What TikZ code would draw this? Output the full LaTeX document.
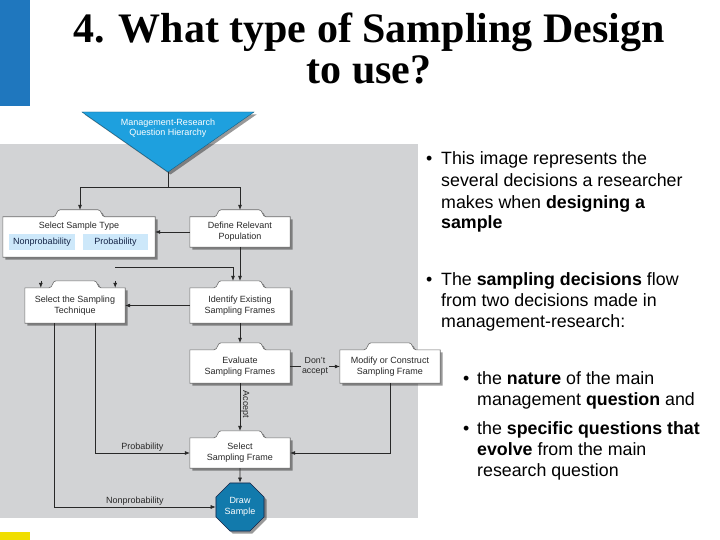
\documentclass[tikz,border=0pt]{standalone}
\usepackage{fontspec}
\setmainfont{Liberation Sans}
\newfontfamily\titlefont{Liberation Serif}
\usetikzlibrary{arrows.meta,calc,shapes.geometric,shadows}
\pgfdeclarelayer{back}
\pgfdeclarelayer{shapes}
\pgfsetlayers{back,shapes,main}
\definecolor{panel}{RGB}{210,211,213}
\definecolor{barblue}{RGB}{31,119,190}
\definecolor{tricyan}{RGB}{30,160,222}
\definecolor{octblue}{RGB}{18,122,172}
\definecolor{optblue}{RGB}{205,232,250}
\definecolor{boxline}{RGB}{110,110,110}
\definecolor{ink}{RGB}{40,40,40}
\definecolor{navyink}{RGB}{20,35,70}
\definecolor{bary}{RGB}{240,222,0}
\tikzset{
 boxnode/.style={minimum width=100pt, inner sep=0pt, align=center, font=\fontsize{9}{11}\selectfont, text=ink},
 boxpath/.style={fill=white, draw=boxline, line width=0.6pt, drop shadow={shadow xshift=2.5pt, shadow yshift=-2.5pt, fill=black, opacity=0.4}},
 conn/.style={draw=ink, line width=0.6pt},
 arr/.style={conn, -{Latex[length=5pt,width=4pt]}},
 lbl/.style={font=\fontsize{9}{11}\selectfont, text=ink, inner sep=1pt},
 optbox/.style={fill=optblue, minimum height=16pt, inner sep=0pt, font=\fontsize{9}{11}\selectfont, text=navyink},
 body/.style={font=\fontsize{17.8}{21.5}\selectfont, anchor=base west, inner sep=0pt},
}
\newcommand\mytabbox[1]{%
 \begin{pgfonlayer}{shapes}
 \path[boxpath] (#1.south west) -- (#1.north west) -- ($(#1.north)+(-26,0)$) .. controls ($(#1.north)+(-22,0)$) and ($(#1.north)+(-23,-7)$) .. ($(#1.north)+(-19,-7)$) -- ($(#1.north)+(19,-7)$) .. controls ($(#1.north)+(23,-7)$) and ($(#1.north)+(22,0)$) .. ($(#1.north)+(26,0)$) -- (#1.north east) -- (#1.south east) -- cycle;
 \end{pgfonlayer}}
\begin{document}
\begin{tikzpicture}[x=1pt,y=-1pt]
\useasboundingbox (0,0) rectangle (720,540);
\begin{pgfonlayer}{back}
 \fill[white] (0,0) rectangle (720,540);
 \fill[panel] (0,144) rectangle (418,518);
 \fill[barblue] (0,0) rectangle (30,106);
 \fill[bary] (0,532) rectangle (30,540);
\end{pgfonlayer}
% title
\node[font=\titlefont\bfseries\fontsize{42}{46}\selectfont, anchor=base, inner sep=0pt] (t1) at (369,43) {4. What type of Sampling Design};
\node[font=\titlefont\bfseries\fontsize{42}{46}\selectfont, anchor=base, inner sep=0pt] (t2) at (369,84) {to use?};
% triangle
\begin{pgfonlayer}{shapes}
 \path[fill=tricyan, draw=tricyan!60!black, line width=0.4pt, drop shadow={shadow xshift=2.5pt, shadow yshift=-2.5pt, fill=black, opacity=0.4}] (82,112) -- (254,112) -- (168,172) -- cycle;
\end{pgfonlayer}
\coordinate (apex) at (168,172);
\node[text=white, font=\fontsize{9}{10.5}\selectfont, align=center, inner sep=0pt] (mrq) at (168,128) {Management-Research\\Question Hierarchy};
% boxes
\node[boxnode, minimum width=152pt, minimum height=40pt] (sst) at (79,237) {};
\mytabbox{sst}
\node[lbl] (ssttxt) at (79,226) {Select Sample Type};
\node[optbox, minimum width=66pt] (nonp) at (42,242) {Nonprobability};
\node[optbox, minimum width=65pt] (prob) at (115.5,242) {Probability};
\node[boxnode, minimum height=30pt] (drp) at (240,232) {Define Relevant\\Population};
\mytabbox{drp}
\node[boxnode, minimum height=35pt] (tech) at (75,305.5) {Select the Sampling\\Technique};
\mytabbox{tech}
\node[boxnode, minimum height=35pt] (ief) at (240,305.5) {Identify Existing\\Sampling Frames};
\mytabbox{ief}
\node[boxnode, minimum height=33pt] (esf) at (240,366.5) {Evaluate\\Sampling Frames};
\mytabbox{esf}
\node[boxnode, minimum height=33pt] (mcs) at (390,366.5) {Modify or Construct\\Sampling Frame};
\mytabbox{mcs}
\node[boxnode, minimum height=30pt] (ssf) at (240,453) {Select\\Sampling Frame};
\mytabbox{ssf}
\node[regular polygon, regular polygon sides=8, minimum size=52pt, fill=octblue, draw=navyink, line width=0.6pt, text=white, font=\fontsize{9}{11}\selectfont, align=center, inner sep=0pt, drop shadow={shadow xshift=2.5pt, shadow yshift=-2.5pt, fill=black, opacity=0.4}] (drs) at (240,507) {Draw\\Sample};
% connectors
\coordinate (j1) at (168,187);
\coordinate (sst-t) at ($(sst.north)+(1,-7)$);
\coordinate (drp-t) at ($(drp.north)+(0,-7)$);
\coordinate (ief-t) at ($(ief.north)+(0,-7)$);
\coordinate (esf-t) at ($(esf.north)+(0,-7)$);
\coordinate (ssf-t) at ($(ssf.north)+(0,-7)$);
\coordinate (h1) at (115,267);
\draw[conn] (apex) -- (j1);
\draw[arr] (j1) -| (sst-t);
\draw[arr] (j1) -| (drp-t);
\draw[arr] (drp.west) -- (drp.west -| sst.east);
\draw[arr] (drp.south) -- (ief-t);
\draw[arr] (h1) -| ($(ief-t)+(-7,0)$);
\draw[arr] ($(tech.north west)+(16,-7)$) -- ($(tech.north west)+(16,0)$);
\draw[arr] ($(tech.north east)+(-10,-7)$) -- ($(tech.north east)+(-10,0)$);
\draw[arr] (ief.west) -- (ief.west -| tech.east);
\draw[arr] (ief.south) -- (esf-t);
\draw[arr] (esf.east) -- node[lbl, fill=panel, align=center, font=\fontsize{8.8}{10.5}\selectfont] (dna) {Don't\\accept} (mcs.west);
\draw[arr] (esf.south) -- node[lbl, rotate=-90, anchor=south, pos=0.45] (acc) {Accept} (ssf-t);
\draw[arr] (mcs.south) |- (ssf.east);
\draw[arr] ($(tech.south)+(20,0)$) |- node[lbl, pos=0.75, above] (pl) {Probability} (ssf.west);
\draw[arr] ($(tech.south)+(-21,0)$) |- node[lbl, pos=0.75, above] (npl) {Nonprobability} (drs.west);
\draw[arr] (ssf.south) -- (drs.north);
% right-hand text
\node[body] (b1) at (426,165) {•};
\node[body] (l1) at (441,165) {This image represents the};
\node[body] (l2) at (441,187) {several decisions a researcher};
\node[body] (l3) at (441,208) {makes when \textbf{designing a}};
\node[body] (l4) at (441,229) {\textbf{sample}};
\node[body] (b2) at (426,285) {•};
\node[body] (l5) at (441,285) {The \textbf{sampling decisions} flow};
\node[body] (l6) at (441,306) {from two decisions made in};
\node[body] (l7) at (441,327) {management-research:};
\node[body] (b3) at (463,384) {•};
\node[body] (l8) at (477,384) {the \textbf{nature} of the main};
\node[body] (l9) at (477,405) {management \textbf{question} and};
\node[body] (b4) at (463,434) {•};
\node[body] (l10) at (477,434) {the \textbf{specific questions that}};
\node[body] (l11) at (477,455) {\textbf{evolve} from the main};
\node[body] (l12) at (477,476) {research question};
\end{tikzpicture}
\end{document}
